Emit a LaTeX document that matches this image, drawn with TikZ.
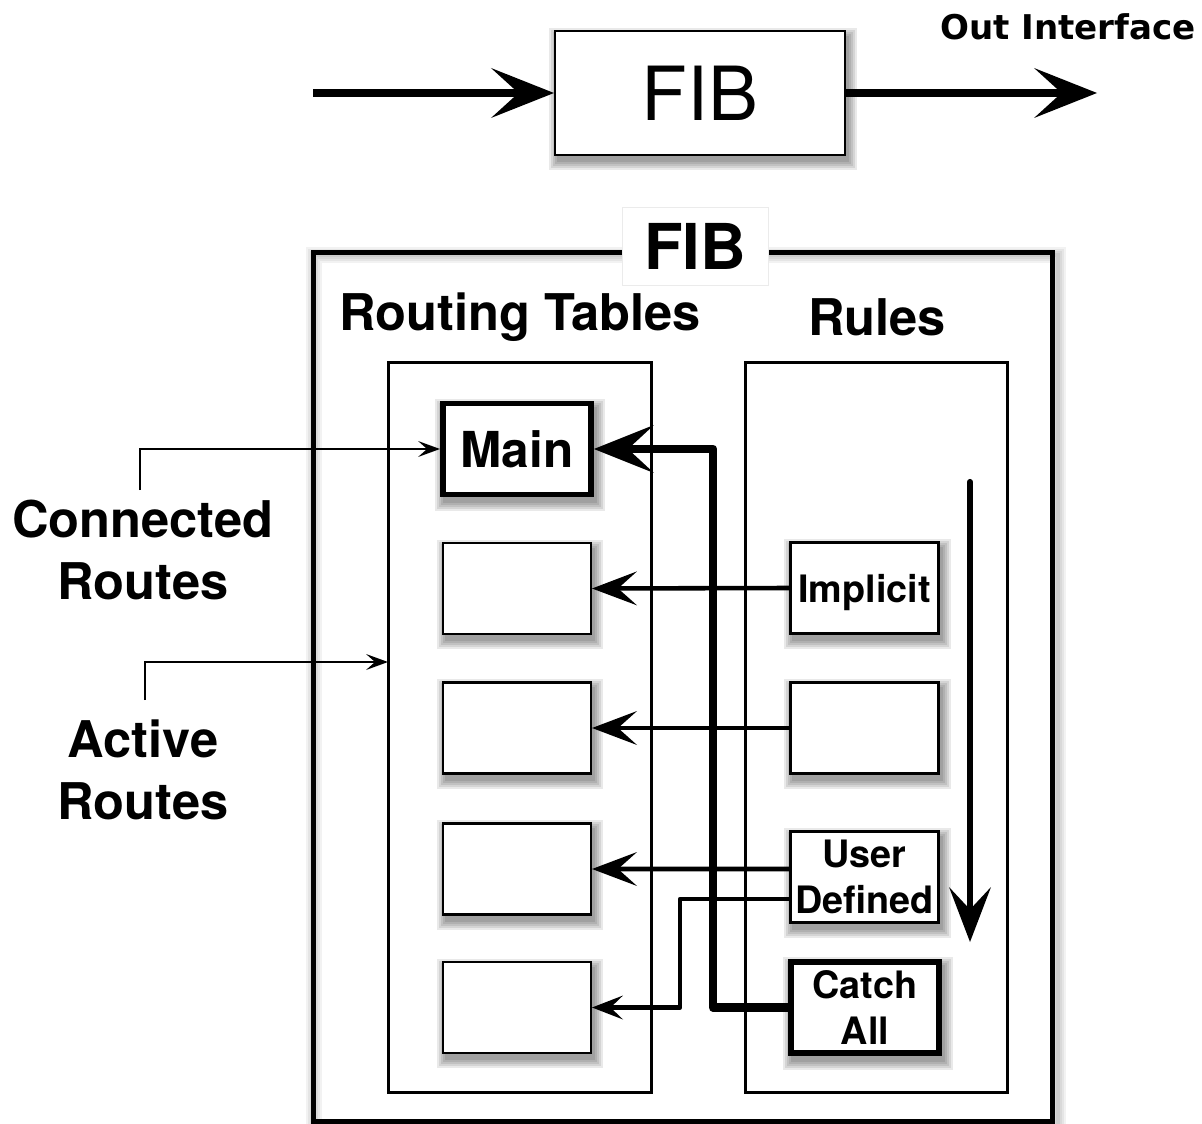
\documentclass[tikz,border=0pt]{standalone}
\usepackage{fontspec}
\setmainfont{TeX Gyre Heros}
\newfontfamily\djv{DejaVu Sans}
\usetikzlibrary{arrows.meta,calc,backgrounds}
\pgfdeclarelayer{paper}
\pgfsetlayers{paper,background,main}

\tikzset{
  box/.style={draw, fill=white, inner sep=0pt, line width=1.2pt,
    minimum width=2.96cm, minimum height=1.82cm, align=center,
    font=\bfseries\fontsize{21.5}{26}\selectfont},
  heavybox/.style={box, line width=3.4pt},
  frame/.style={draw, inner sep=0pt, line width=1.7pt},
  lbl/.style={inner sep=0pt, align=center, font=\bfseries\fontsize{28.8}{35.7}\selectfont},
  bigarrow/.style={line width=4.5pt,
    -{Stealth[length=1.26cm,width=1cm,inset=0.55cm,line width=0pt]}},
  thickarrow/.style={line width=5pt, line join=round,
    -{Stealth[length=1.2cm,width=0.96cm,inset=0.52cm,line width=0pt]}},
  medarrow/.style={line width=2.6pt, line cap=round,
    -{Stealth[length=0.9cm,width=0.68cm,inset=0.38cm,line width=0pt]}},
  smallarrow/.style={line width=2.6pt, line cap=round, line join=round,
    -{Stealth[length=0.62cm,width=0.48cm,inset=0.25cm,line width=0pt]}},
  downarrow/.style={line width=3.5pt, line cap=round,
    -{Stealth[length=1.1cm,width=0.84cm,inset=0.45cm,line width=0pt]}},
  thinarrow/.style={line width=0.85pt,
    -{Stealth[length=0.44cm,width=0.32cm,inset=0.18cm,line width=0pt]}},
}

\begin{document}
\begin{tikzpicture}[x=0.02cm,y=-0.02cm]
\begin{pgfonlayer}{paper}
  \fill[white] (0,0) rectangle (1202,1124);
\end{pgfonlayer}
\useasboundingbox (0,0) rectangle (1202,1124);

% forwarding stage at the top
\node[box, minimum width=5.8cm, minimum height=2.48cm,
      font=\fontsize{42.5}{50}\selectfont] (topfib) at (700,93) {FIB};
\coordinate (inL) at (313,93);
\coordinate (outR) at (1097,93);
\node[inner sep=0pt, font=\djv\bfseries\fontsize{19.4}{23}\selectfont] (outif) at (1068,27) {Out Interface};

% FIB frame with its title
\node[frame, line width=2.8pt, minimum width=14.8cm, minimum height=17.4cm] (fib) at (683,687) {};
\node[fill=white, draw=black!8, line width=0.4pt, inner sep=0pt,
      minimum width=2.92cm, minimum height=1.56cm,
      font=\bfseries\fontsize{36}{40}\selectfont] (fiblbl) at (695,246) {FIB};

\node[lbl] (rtl) at (520,317) {Routing Tables};
\node[lbl] (rul) at (877,317) {Rules};
\node[frame, minimum width=5.28cm, minimum height=14.62cm] (rt) at (520,727.5) {};
\node[frame, minimum width=5.26cm, minimum height=14.62cm] (rules) at (876.5,727.5) {};

% routing tables
\node[heavybox, font=\bfseries\fontsize{28.2}{34}\selectfont] (main) at (517,449) {Main};
\node[box] (t1) at (517,588.5) {};
\node[box] (t2) at (517,728) {};
\node[box] (t3) at (517,869) {};
\node[box] (t4) at (517,1007.5) {};

% rules
\node[box, text depth=0pt] (imp) at (864.5,588) {Implicit};
\node[box] (r2) at (864.5,728) {};
\node[box] (usr) at (864.5,877) {User\\Defined};
\node[heavybox] (catch) at (865,1007.5) {Catch\\All};

% route sources
\node[lbl] (conn) at (143,550) {Connected\\Routes};
\node[lbl] (act) at (143,770) {Active\\Routes};
\coordinate (connTop) at (140,490);
\coordinate (actTop) at (145,700);
\coordinate (actEnd) at (388,662);

% soft shadows
\begin{scope}[on background layer]
  \foreach \nm in {topfib,main,t1,t2,t3,t4,imp,r2,usr,catch}{
    \foreach \s in {0,2,4,6,8}{
      \fill[black,opacity=0.085]
        ($(\nm.north west)+(3-\s,6-\s)$) rectangle ($(\nm.south east)+(3+\s,6+\s)$);
    }
  }
  \foreach \w in {4,8,12,16}{
    \draw[black,opacity=0.05,line width=\w*0.02cm]
      ($(fib.north west)+(3,5)$) rectangle ($(fib.south east)+(3,5)$);
  }
\end{scope}

% connectors
\draw[bigarrow] (inL) -- (topfib.west);
\draw[bigarrow] (topfib.east) -- (outR);

\coordinate (bendB) at (713,449);
\draw[thickarrow] (catch.west) -| (bendB) -- (main.east);
\draw[medarrow] (imp.west) -- (t1.east);
\draw[medarrow] (r2.west) -- (t2.east);
\draw[medarrow] ([yshift=0.16cm]usr.west) -- (t3.east);
\coordinate (bendC) at (680,1007.5);
\draw[smallarrow] ([yshift=-0.44cm]usr.west) -| (bendC) -- (t4.east);

\draw[thinarrow] (connTop) |- (main.west);
\draw[thinarrow] (actTop) |- (actEnd);

\coordinate (dA) at (970,482);
\coordinate (dB) at (970,942);
\draw[downarrow] (dA) -- (dB);
\end{tikzpicture}
\end{document}
